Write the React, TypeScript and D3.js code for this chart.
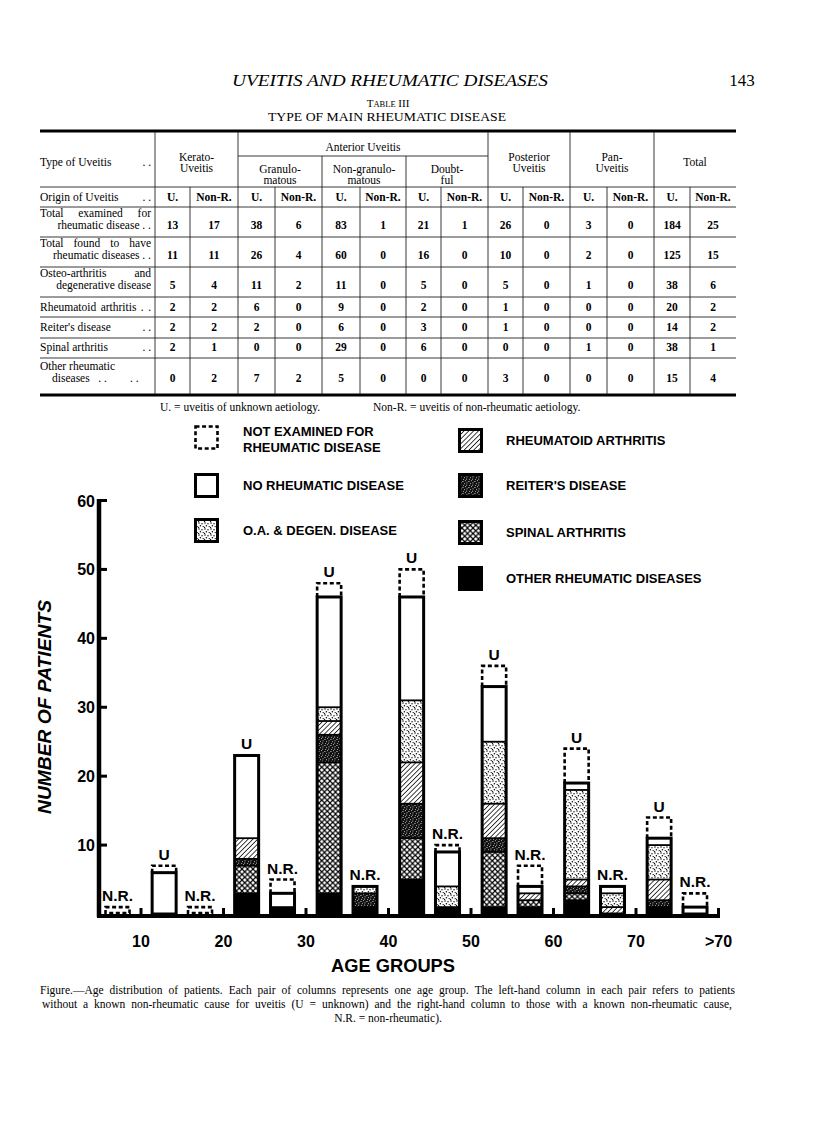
import React from 'react';
import * as d3 from 'd3';

// ---------------- Chart data ----------------
const ageGroups = ["<10", "10–20", "20–30", "30–40", "40–50", "50–60", "60–70", ">70"];
const xTickLabels = ["10", "20", "30", "40", "50", "60", "70", ">70"];
const yTicks = [10, 20, 30, 40, 50, 60];
const stackKeys = ["other", "spinal", "reiter", "ra", "oa", "noRheum"];

// Left-hand columns (U = unknown)
const uOther = [0, 0, 3, 3, 5, 1, 2, 1];
const uSpinal = [0, 0, 4, 19, 6, 8, 1, 0];
const uReiter = [0, 0, 1, 4, 5, 2, 1, 1];
const uRA = [0, 0, 3, 2, 6, 5, 1, 3];
const uOA = [0, 0, 0, 2, 9, 9, 13, 5];
const uNoRheum = [0, 6, 12, 16, 15, 8, 1, 1];
const uNotExam = [0, 1, 0, 2, 4, 3, 5, 3];

// Right-hand columns (N.R. = non-rheumatic)
const nOther = [0, 0, 1, 1, 1, 1, 0, 0];
const nSpinal = [0, 0, 0, 0, 0, 1, 0, 0];
const nReiter = [0, 0, 0, 2, 0, 0, 0, 0];
const nRA = [0, 0, 0, 0, 0, 1, 1, 0];
const nOA = [0, 0, 0, 1, 3, 0, 2, 0];
const nNoRheum = [0, 0, 2, 0, 5, 1, 1, 1];
const nNotExam = [1, 1, 2, 0, 1, 3, 0, 2];

const legendLeft = [
  { key: "notExam", lines: ["NOT EXAMINED FOR", "RHEUMATIC DISEASE"] },
  { key: "noRheum", lines: ["NO RHEUMATIC DISEASE"] },
  { key: "oa", lines: ["O.A. & DEGEN. DISEASE"] },
];
const legendRight = [
  { key: "ra", lines: ["RHEUMATOID ARTHRITIS"] },
  { key: "reiter", lines: ["REITER'S DISEASE"] },
  { key: "spinal", lines: ["SPINAL ARTHRITIS"] },
  { key: "other", lines: ["OTHER RHEUMATIC DISEASES"] },
];

// ---------------- Table data ----------------
const rowTotalExamined = [13, 17, 38, 6, 83, 1, 21, 1, 26, 0, 3, 0, 184, 25];
const rowTotalFound = [11, 11, 26, 4, 60, 0, 16, 0, 10, 0, 2, 0, 125, 15];
const rowOA = [5, 4, 11, 2, 11, 0, 5, 0, 5, 0, 1, 0, 38, 6];
const rowRA = [2, 2, 6, 0, 9, 0, 2, 0, 1, 0, 0, 0, 20, 2];
const rowReiter = [2, 2, 2, 0, 6, 0, 3, 0, 1, 0, 0, 0, 14, 2];
const rowSpinal = [2, 1, 0, 0, 29, 0, 6, 0, 0, 0, 1, 0, 38, 1];
const rowOther = [0, 2, 7, 2, 5, 0, 0, 0, 3, 0, 0, 0, 15, 4];
const originLabels = ["U.", "Non-R.", "U.", "Non-R.", "U.", "Non-R.", "U.", "Non-R.", "U.", "Non-R.", "U.", "Non-R.", "U.", "Non-R."];

const captionLine1 = "Figure.—Age distribution of patients. Each pair of columns represents one age group. The left-hand column in each pair refers to patients";
const captionLine2 = "without a known non-rheumatic cause for uveitis (U = unknown) and the right-hand column to those with a known non-rheumatic cause,";
const captionLine3 = "N.R. = non-rheumatic).";

const SANS = "'Liberation Sans', Arial, sans-serif";
const SERIF = "'Liberation Serif', 'Times New Roman', serif";

const fills: Record<string, string> = {
  other: "#000",
  spinal: "url(#pSpinal)",
  reiter: "url(#pReiter)",
  ra: "url(#pRA)",
  oa: "url(#pOA)",
  noRheum: "#fff",
  notExam: "#fff",
};

function makeRows(a: number[][]) {
  return ageGroups.map((g, i) => {
    const r: any = { group: g };
    stackKeys.forEach((k, j) => (r[k] = a[j][i]));
    return r;
  });
}

let measureCtx: CanvasRenderingContext2D | null = null;
function measure(text: string, size: number, weight = "normal") {
  if (!measureCtx) {
    const c = document.createElement("canvas");
    measureCtx = c.getContext("2d");
  }
  if (!measureCtx) return text.length * size * 0.45;
  measureCtx.font = `${weight} ${size}px 'Liberation Serif'`;
  return measureCtx.measureText(text).width;
}

function Justified({ text, x0, x1, y, size, weight }: { text: string; x0: number; x1: number; y: number; size: number; weight?: string }) {
  const words = text.split(/\s+/).filter((w) => w.length);
  const widths = words.map((w) => measure(w, size, weight || "normal"));
  const sum = d3.sum(widths);
  const gap = words.length > 1 ? (x1 - x0 - sum) / (words.length - 1) : 0;
  let cx = x0;
  const xs = widths.map((w) => {
    const p = cx;
    cx += w + gap;
    return p;
  });
  return (
    <text y={y} fontSize={size} fontWeight={weight}>
      {words.map((w, i) => (
        <tspan key={i} x={xs[i]}>{w}</tspan>
      ))}
    </text>
  );
}

export default function App() {
  const W = 816, H = 1125;
  const x = d3.scaleLinear().domain([0, 8]).range([58.5, 718.5]);
  const y = d3.scaleLinear().domain([0, 60]).range([914, 500.5]);
  const step = x(1) - x(0);
  const barW = 24;
  const uOff = step * 0.135;
  const nOff = step * 0.57;

  const stack = d3.stack<any>().keys(stackKeys);
  const uSeries = stack(makeRows([uOther, uSpinal, uReiter, uRA, uOA, uNoRheum]));
  const nSeries = stack(makeRows([nOther, nSpinal, nReiter, nRA, nOA, nNoRheum]));

  const bars: any[] = [];
  ageGroups.forEach((g, i) => {
    [
      { series: uSeries, ne: uNotExam[i], off: uOff, label: "U" },
      { series: nSeries, ne: nNotExam[i], off: nOff, label: "N.R." },
    ].forEach((b) => {
      const segs = b.series
        .map((s: any) => ({ key: s.key, y0: s[i][0], y1: s[i][1] }))
        .filter((d: any) => d.y1 > d.y0);
      const total = b.series[b.series.length - 1][i][1];
      if (total + b.ne > 0) bars.push({ x0: x(i) + b.off, segs, total, ne: b.ne, label: b.label, id: g + b.label });
    });
  });

  // table layout
  const colEdges = [155, 190, 238, 275, 322, 360, 406, 441, 488, 523, 570, 607, 654, 690, 736];
  const colCenters = d3.range(14).map((i) => (colEdges[i] + colEdges[i + 1]) / 2);
  const tableRows = [
    { lines: ["Total examined for", "rheumatic disease . ."], ys: [217, 229], vals: rowTotalExamined, just: true },
    { lines: ["Total found to have", "rheumatic diseases . ."], ys: [247, 259], vals: rowTotalFound, just: true },
    { lines: ["Osteo-arthritis and", "degenerative disease"], ys: [277, 289], vals: rowOA, just: true },
    { lines: ["Rheumatoid arthritis . ."], ys: [311], vals: rowRA, just: true },
    { lines: ["Reiter's disease"], ys: [331], vals: rowReiter, dots: true },
    { lines: ["Spinal arthritis"], ys: [351], vals: rowSpinal, dots: true },
    { lines: ["Other rheumatic", "diseases   . .        . ."], ys: [370, 382], vals: rowOther, left2: true },
  ];
  const hLines = [187, 207, 237, 267, 297, 317, 338, 358];

  const tfs = 11.5;

  return (
    <svg width={W} height={H} style={{ position: "absolute", left: 0, top: 0, background: "#fff" }}>
      <defs>
        <pattern id="pOA" width="6" height="6" patternUnits="userSpaceOnUse">
          <rect width="6" height="6" fill="#fff" />
          <circle cx="1" cy="1" r="0.75" fill="#000" />
          <circle cx="4" cy="1.8" r="0.7" fill="#000" />
          <circle cx="2.4" cy="3.8" r="0.75" fill="#000" />
          <circle cx="5.2" cy="4.6" r="0.7" fill="#000" />
          <circle cx="0.6" cy="5.4" r="0.6" fill="#000" />
        </pattern>
        <pattern id="pRA" width="3.4" height="3.4" patternUnits="userSpaceOnUse" patternTransform="rotate(45)">
          <rect width="3.4" height="3.4" fill="#fff" />
          <line x1="0" y1="0" x2="0" y2="3.4" stroke="#000" strokeWidth="1.5" />
        </pattern>
        <pattern id="pReiter" width="6" height="6" patternUnits="userSpaceOnUse">
          <rect width="6" height="6" fill="#111" />
          <rect x="0.5" y="1" width="0.9" height="0.9" fill="#fff" />
          <rect x="3.2" y="0.3" width="0.8" height="0.8" fill="#fff" />
          <rect x="2" y="3.4" width="0.9" height="0.7" fill="#fff" />
          <rect x="4.6" y="2.4" width="0.8" height="0.9" fill="#fff" />
          <rect x="1" y="5" width="0.8" height="0.7" fill="#fff" />
          <rect x="4.2" y="4.7" width="0.9" height="0.8" fill="#fff" />
        </pattern>
        <pattern id="pSpinal" width="5.5" height="5.5" patternUnits="userSpaceOnUse">
          <rect width="5.5" height="5.5" fill="#fff" />
          <line x1="0" y1="0" x2="5.5" y2="5.5" stroke="#000" strokeWidth="1.15" />
          <line x1="5.5" y1="0" x2="0" y2="5.5" stroke="#000" strokeWidth="1.15" />
        </pattern>
      </defs>

      {/* ---------- page header ---------- */}
      <text x={390} y={86} textAnchor="middle" fontFamily={SERIF} fontStyle="italic" fontSize={17} textLength={316} lengthAdjust="spacingAndGlyphs">
        UVEITIS AND RHEUMATIC DISEASES
      </text>
      <text x={742} y={86} textAnchor="middle" fontFamily={SERIF} fontSize={17}>143</text>
      <text x={388} y={107} textAnchor="middle" fontFamily={SERIF} fontSize={11}>
        T<tspan fontSize={8.5}>ABLE</tspan> III
      </text>
      <text x={387} y={121} textAnchor="middle" fontFamily={SERIF} fontSize={11.5} textLength={238} lengthAdjust="spacingAndGlyphs">
        TYPE OF MAIN RHEUMATIC DISEASE
      </text>

      {/* ---------- table ---------- */}
      <g fontFamily={SERIF} fontSize={tfs} fill="#000">
        <line x1={40} x2={736} y1={131} y2={131} stroke="#000" strokeWidth={3} />
        <line x1={40} x2={736} y1={395} y2={395} stroke="#000" strokeWidth={3} />
        {hLines.map((h) => (
          <line key={h} x1={40} x2={736} y1={h} y2={h} stroke="#222" strokeWidth={0.9} />
        ))}
        <line x1={238} x2={488} y1={156} y2={156} stroke="#222" strokeWidth={0.9} />
        {[155, 238, 488, 570, 654].map((v) => (
          <line key={"v" + v} x1={v} x2={v} y1={132} y2={394} stroke="#222" strokeWidth={0.9} />
        ))}
        {[322, 406].map((v) => (
          <line key={"m" + v} x1={v} x2={v} y1={156} y2={394} stroke="#222" strokeWidth={0.9} />
        ))}
        {[190, 275, 360, 441, 523, 607, 690].map((v) => (
          <line key={"s" + v} x1={v} x2={v} y1={187} y2={394} stroke="#222" strokeWidth={0.9} />
        ))}

        <text x={40} y={166}>Type of Uveitis</text>
        <text x={151} y={166} textAnchor="end">. .</text>
        <text x={196.5} y={161} textAnchor="middle">Kerato-</text>
        <text x={196.5} y={172} textAnchor="middle">Uveitis</text>
        <text x={363} y={151} textAnchor="middle">Anterior Uveitis</text>
        <text x={280} y={173} textAnchor="middle">Granulo-</text>
        <text x={280} y={184} textAnchor="middle">matous</text>
        <text x={364} y={173} textAnchor="middle">Non-granulo-</text>
        <text x={364} y={184} textAnchor="middle">matous</text>
        <text x={447} y={173} textAnchor="middle">Doubt-</text>
        <text x={447} y={184} textAnchor="middle">ful</text>
        <text x={529} y={161} textAnchor="middle">Posterior</text>
        <text x={529} y={172} textAnchor="middle">Uveitis</text>
        <text x={612} y={161} textAnchor="middle">Pan-</text>
        <text x={612} y={172} textAnchor="middle">Uveitis</text>
        <text x={695} y={166} textAnchor="middle">Total</text>

        <text x={40} y={201}>Origin of Uveitis</text>
        <text x={151} y={201} textAnchor="end">. .</text>
        {originLabels.map((t, i) => (
          <text key={"o" + i} x={colCenters[i]} y={201} textAnchor="middle" fontWeight="bold">{t}</text>
        ))}

        {tableRows.map((r, ri) => (
          <g key={"r" + ri}>
            {r.lines.map((ln, li) => {
              if (li === 0) {
                return r.just ? (
                  <Justified key={li} text={ln} x0={40} x1={151} y={r.ys[0]} size={tfs} />
                ) : (
                  <text key={li} x={40} y={r.ys[0]}>{ln}</text>
                );
              }
              return r.left2 ? (
                <text key={li} x={52} y={r.ys[li]} style={{ whiteSpace: "pre" }}>{ln}</text>
              ) : (
                <text key={li} x={151} y={r.ys[li]} textAnchor="end">{ln}</text>
              );
            })}
            {r.dots && <text x={151} y={r.ys[0]} textAnchor="end">. .</text>}
            {r.vals.map((v, i) => (
              <text key={"val" + i} x={colCenters[i]} y={r.ys[r.ys.length - 1]} textAnchor="middle" fontWeight="bold">{v}</text>
            ))}
          </g>
        ))}

        <text x={160} y={411}>U. = uveitis of unknown aetiology.</text>
        <text x={373} y={411}>Non-R. = uveitis of non-rheumatic aetiology.</text>
      </g>

      {/* ---------- legend ---------- */}
      <g fontFamily={SANS} fontWeight="bold" fontSize={13}>
        {[
          { items: legendLeft, sx: 194, tx: 243, ys: [425, 473, 518] },
          { items: legendRight, sx: 458, tx: 506, ys: [428, 473, 520, 566] },
        ].map((col, ci) =>
          col.items.map((it, k) => {
            const sy = col.ys[k];
            const dashed = it.key === "notExam";
            return (
              <g key={ci + "-" + k}>
                <rect
                  x={col.sx + 1.5}
                  y={sy + 1.5}
                  width={22}
                  height={22}
                  fill={fills[it.key]}
                  stroke="#000"
                  strokeWidth={dashed ? 2.6 : 3}
                  strokeDasharray={dashed ? "4 2.6" : undefined}
                />
                {it.lines.map((ln, li) => (
                  <text key={li} x={col.tx} y={it.lines.length > 1 ? sy + 11 + li * 16 : sy + 17}>
                    {ln}
                  </text>
                ))}
              </g>
            );
          })
        )}
      </g>

      {/* ---------- bars ---------- */}
      <g>
        {bars.map((b) => {
          const top = b.total + b.ne;
          const yt = y(b.total);
          return (
            <g key={b.id}>
              {b.segs.map((s: any) => (
                <rect key={s.key} x={b.x0} y={y(s.y1)} width={barW} height={y(s.y0) - y(s.y1)} fill={fills[s.key]} />
              ))}
              {b.segs.slice(1).map((s: any) => (
                <line key={"l" + s.key} x1={b.x0} x2={b.x0 + barW} y1={y(s.y0)} y2={y(s.y0)} stroke="#000" strokeWidth={1.8} />
              ))}
              {b.total > 0 && (
                <rect x={b.x0} y={yt} width={barW} height={y(0) - yt} fill="none" stroke="#000" strokeWidth={3} />
              )}
              {b.ne > 0 && b.total > 0 && (
                <path
                  d={`M${b.x0},${yt} V${y(top)} H${b.x0 + barW} V${yt}`}
                  fill="none"
                  stroke="#000"
                  strokeWidth={2.6}
                  strokeDasharray="4 2.6"
                />
              )}
              {b.ne > 0 && b.total === 0 && (
                <rect
                  x={b.x0}
                  y={y(top)}
                  width={barW}
                  height={y(0) - y(top) - 1}
                  fill="#fff"
                  stroke="#000"
                  strokeWidth={2.6}
                  strokeDasharray="4 2.6"
                />
              )}
              <text x={b.x0 + barW / 2} y={y(top) - 6} textAnchor="middle" fontFamily={SANS} fontWeight="bold" fontSize={15.5}>
                {b.label}
              </text>
            </g>
          );
        })}
      </g>

      {/* ---------- axes ---------- */}
      <g stroke="#000" fill="none">
        <line x1={99} x2={99} y1={499} y2={917} strokeWidth={4.5} />
        {yTicks.map((t) => (
          <line key={"yt" + t} x1={99} x2={107} y1={y(t)} y2={y(t)} strokeWidth={3} />
        ))}
        <line x1={97} x2={x(8) + 1.5} y1={916} y2={916} strokeWidth={4} />
        {xTickLabels.map((t, i) => (
          <line key={"xt" + t} x1={x(i + 1)} x2={x(i + 1)} y1={916} y2={908} strokeWidth={3} />
        ))}
      </g>
      <g fontFamily={SANS} fontWeight="bold" fontSize={16}>
        {yTicks.map((t) => (
          <text key={"yl" + t} x={95} y={y(t) + 6} textAnchor="end">{t}</text>
        ))}
        {xTickLabels.map((t, i) => (
          <text key={"xl" + t} x={x(i + 1)} y={947} textAnchor="middle">{t}</text>
        ))}
      </g>
      <text
        transform="translate(51,707) rotate(-90)"
        textAnchor="middle"
        fontFamily={SANS}
        fontWeight="bold"
        fontStyle="italic"
        fontSize={18}
        textLength={214}
        lengthAdjust="spacingAndGlyphs"
      >
        NUMBER OF PATIENTS
      </text>
      <text x={393} y={972} textAnchor="middle" fontFamily={SANS} fontWeight="bold" fontSize={19} textLength={124} lengthAdjust="spacingAndGlyphs">
        AGE GROUPS
      </text>

      {/* ---------- caption ---------- */}
      <g fontFamily={SERIF} fill="#000">
        <Justified text={captionLine1} x0={40} x1={735} y={994} size={11.5} />
        <Justified text={captionLine2} x0={42} x1={732} y={1008} size={11.5} />
        <text x={388} y={1022} textAnchor="middle" fontSize={11.5}>{captionLine3}</text>
      </g>
    </svg>
  );
}
